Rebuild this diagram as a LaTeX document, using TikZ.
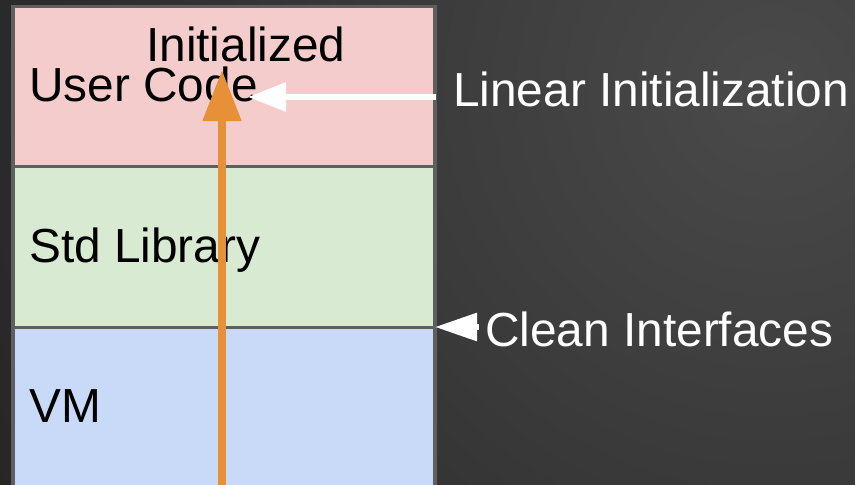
\documentclass[tikz,border=0pt]{standalone}
\usepackage{fontspec}
\setmainfont{Liberation Sans}
\usepackage{tikz}
\usetikzlibrary{arrows.meta,positioning}
\definecolor{userpink}{HTML}{F4CCCC}
\definecolor{stdgreen}{HTML}{D9EAD3}
\definecolor{vmblue}{HTML}{C9DAF8}
\definecolor{initorange}{HTML}{E69138}
\definecolor{layergray}{HTML}{5F5F5F}
\definecolor{bglight}{HTML}{4A4A4A}
\definecolor{bgdark}{HTML}{0E0E0E}
\tikzset{
    layer/.style={rectangle, draw=layergray, line width=3.5pt, anchor=north west, minimum width=422pt, inner sep=0pt},
    label/.style={anchor=base west, inner sep=0pt, font=\fontsize{47.8}{57}\selectfont},
    initarrow/.style={draw=initorange, line width=8pt, -{Triangle[width=37pt,length=51pt]}},
    notearrow/.style={draw=white, line width=6pt, -{Triangle[width=28pt,length=38pt]}}
}

\begin{document}
\begin{tikzpicture}[x=1pt, y=-1pt]
    % background
    \useasboundingbox (0,0) rectangle (855,485);
    \clip (0,0) rectangle (855,485);
    \shade[inner color=bglight, outer color=bgdark] (770,90) circle (1450);

    % layers
    \node[layer, fill=userpink, minimum height=160pt] (user) at (11,4.5) {};
    \node[layer, fill=stdgreen, minimum height=161pt] (stdlib) at (11,164.5) {};
    \node[layer, fill=vmblue, minimum height=170pt] (vm) at (11,325.5) {};

    % texts
    \node[label] (initialized) at (146,61) {Initialized};
    \node[label] (usercode) at (29,101) {User Code};
    \node[label] (stdtext) at (29,262) {Std Library};
    \node[label] (vmtext) at (29,422) {VM};
    \node[label, text=white] (linear) at (453,106) {Linear Initialization};
    \node[label, text=white] (clean) at (485,346) {Clean Interfaces};

    % arrow ends
    \coordinate (bootstart) at (222,490);
    \coordinate (boottip) at (222,70);
    \coordinate (linearstart) at (436,97);
    \coordinate (lineartip) at (248,97);
    \coordinate (cleanstart) at (479,327);
    \coordinate (cleantip) at (435,327);

    % edges
    \draw[initarrow] (bootstart) -- (boottip);
    \draw[notearrow] (linearstart) -- (lineartip);
    \draw[notearrow, -{Triangle[width=27pt,length=42pt]}] (cleanstart) -- (cleantip);
\end{tikzpicture}
\end{document}
